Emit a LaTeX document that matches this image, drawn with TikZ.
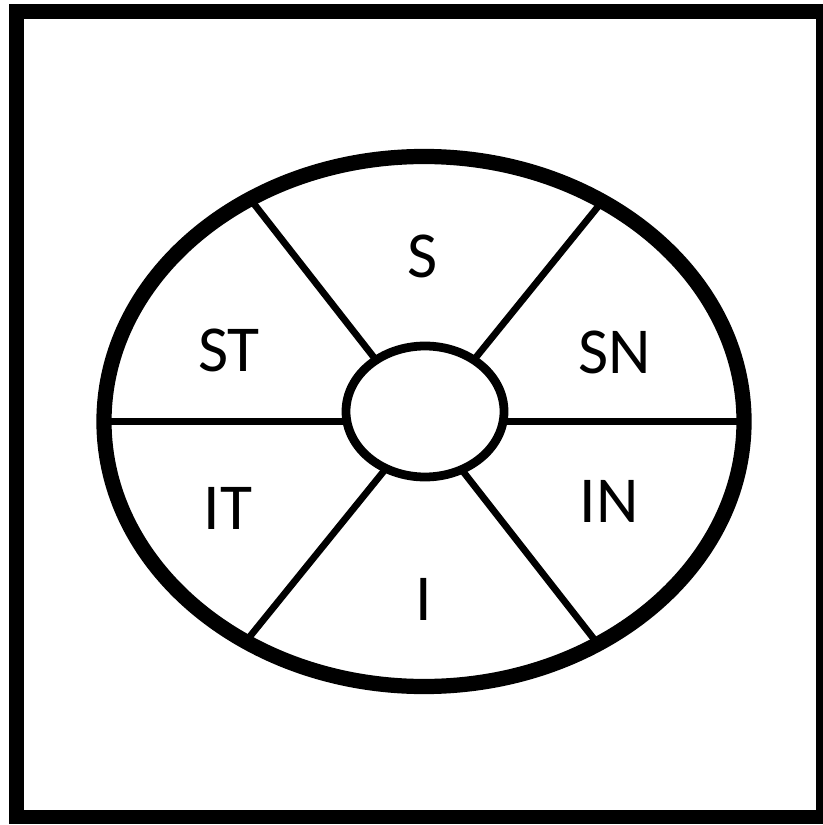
\documentclass[tikz,border=0pt]{standalone}
\usepackage{fontspec}
\setmainfont{Carlito}
\usetikzlibrary{shapes.geometric}

\begin{document}
\begin{tikzpicture}[
  x=0.03cm, y=-0.03cm,
  ring/.style={draw, ellipse, inner sep=0pt, outer sep=0pt},
  spoke/.style={line width=5.8pt},
  lbl/.style={font=\fontsize{56}{62}\selectfont, inner sep=0pt}]
\useasboundingbox (0,0) rectangle (822,825);
\draw[line width=12pt] (16.5,11.5) rectangle (823,817);
\coordinate (c) at (424,421.5);
\node[ring, line width=13pt, minimum width=19.2cm, minimum height=15.9cm] (wheel) at (c) {};
% spokes run out from the middle, the hub covers their inner ends
\foreach \a in {0,51.7,128.3,180,231.7,308.3}
  \draw[spoke] (c) -- (wheel.\a);
\node[ring, fill=white, line width=7.5pt, minimum width=4.74cm, minimum height=3.93cm] (hub) at (425,411.5) {};
\node[lbl] (s) at (423,256) {S};
\node[lbl] (st) at (229,350) {ST};
\node[lbl] (sn) at (615,352) {SN};
\node[lbl] (it) at (228,508) {IT};
\node[lbl] (in) at (609,501) {IN};
\node[lbl] (i) at (424,599) {I};
\end{tikzpicture}
\end{document}
